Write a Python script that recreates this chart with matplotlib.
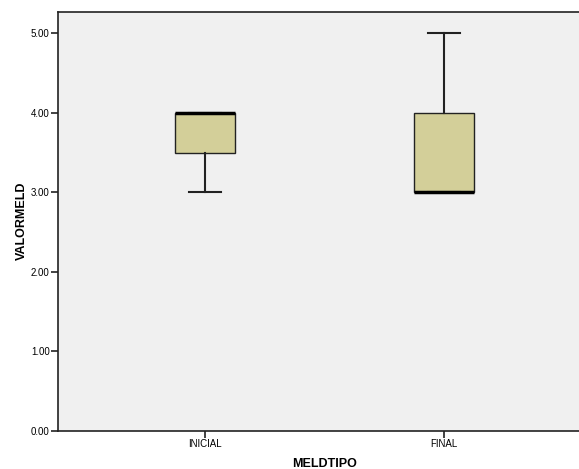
import matplotlib
matplotlib.use("Agg")
import matplotlib.pyplot as plt

plt.rcParams['font.family'] = ['Liberation Sans', 'DejaVu Sans']

# box statistics
groups = ["INICIAL", "FINAL"]
whislo = [3.0, 3.0]
q1 = [3.5, 3.0]
med = [4.0, 3.0]
q3 = [4.0, 4.0]
whishi = [4.0, 5.0]
yticks = [0.0, 1.0, 2.0, 3.0, 4.0, 5.0]

stats = []
for i, g in enumerate(groups):
    stats.append(dict(label=g, whislo=whislo[i], q1=q1[i], med=med[i],
                      q3=q3[i], whishi=whishi[i], fliers=[]))

fig = plt.figure(figsize=(5.79, 4.69), dpi=100)
ax = fig.add_axes([58/579, 1 - 431/469, 533/579, 419.5/469])
ax.set_facecolor("#f0f0f0")

ax.bxp(stats, positions=[1, 2], widths=0.255, patch_artist=True,
       showfliers=False,
       boxprops=dict(facecolor="#d3cf99", edgecolor="#222222", linewidth=1.0),
       medianprops=dict(color="black", linewidth=2.5),
       whiskerprops=dict(color="#222222", linewidth=1.5),
       capprops=dict(color="#222222", linewidth=1.5),
       capwidths=0.13)

ax.set_xlim(0.385, 2.615)
ax.set_ylim(0, 5.276)
ax.set_yticks(yticks)
ax.set_yticklabels(["%.2f" % v for v in yticks], fontsize=7)
ax.set_xticks([1, 2])
ax.set_xticklabels(groups, fontsize=7)
ax.tick_params(axis="both", length=5, width=1.2, color="#222222", pad=1)
for s in ["top", "bottom", "left", "right"]:
    ax.spines[s].set_color("#222222")
    ax.spines[s].set_linewidth(1.2)

ax.set_xlabel("MELDTIPO", fontsize=9, fontweight="bold", labelpad=6)
ax.set_ylabel("VALORMELD", fontsize=9, fontweight="bold", labelpad=2)

fig.savefig("out.png", dpi=100)
